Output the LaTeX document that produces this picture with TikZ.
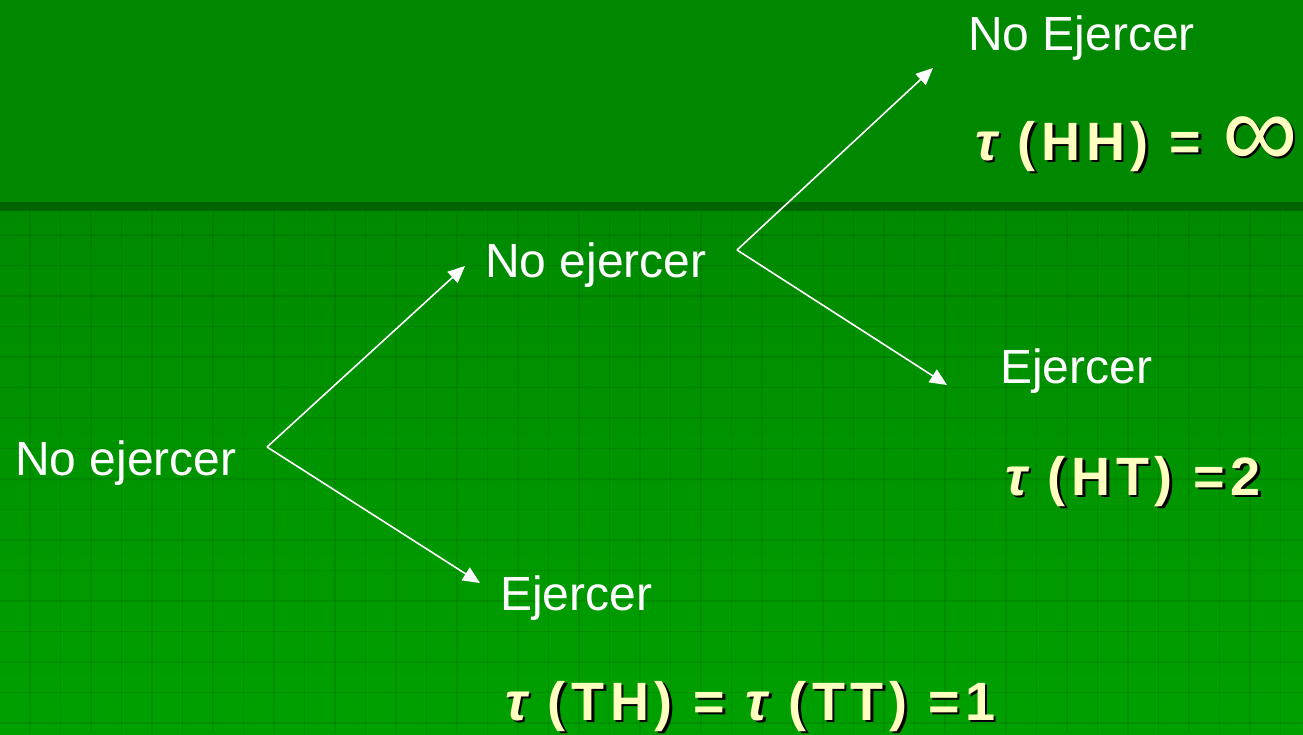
\documentclass[tikz,border=0pt]{standalone}
\usepackage{fontspec}
\setmainfont{Liberation Sans}
\usetikzlibrary{arrows.meta}
\definecolor{topgreen}{RGB}{0,136,0}
\definecolor{bandgreen}{RGB}{0,100,0}
\definecolor{lowtop}{RGB}{0,138,0}
\definecolor{lowbot}{RGB}{0,160,0}
\definecolor{fyellow}{RGB}{255,255,192}
\newcommand\fml[3]{%
  \node[fshadow,xshift=2.5pt,yshift=-2.5pt] at (#2) {#3};
  \node[ftext] (#1) at (#2) {#3};}
\begin{document}
\begin{tikzpicture}[x=1pt,y=-1pt,
  lbl/.style={text=white,font=\fontsize{48}{48}\selectfont,inner sep=0pt,anchor=base west},
  ftext/.style={text=fyellow,font=\fontsize{54}{54}\selectfont\bfseries\addfontfeature{LetterSpace=10.5},inner sep=0pt,anchor=base west},
  fshadow/.style={ftext,text=black},
  inf/.style={text=fyellow,font=\fontsize{106}{106}\selectfont,inner sep=0pt,anchor=center},
  arr/.style={white,line width=1.6pt,-{Triangle[length=17pt,width=15pt]}},
  gridl/.style={draw=black,opacity=0.08,line width=1.2pt}]
\useasboundingbox (0,0) rectangle (1303,734);
% background
\fill[topgreen] (0,0) rectangle (1303,202);
\shade[top color=lowtop,bottom color=lowbot] (0,210) rectangle (1303,734);
\fill[bandgreen] (0,201.5) rectangle (1303,210.5);
\foreach \x in {30,60.5,...,1303} \draw[gridl] (\x,211) -- (\x,734);
\foreach \y in {235,265.5,...,734} \draw[gridl] (0,\y) -- (1303,\y);
% labels
\node[lbl] (noej0) at (15,475) {No ejercer};
\node[lbl] (noej1) at (485,277) {No ejercer};
\node[lbl] (ej1) at (500,610) {Ejercer};
\node[lbl] (noej2) at (968,50) {No Ejercer};
\node[lbl] (ej2) at (1000,383) {Ejercer};
% formulas
\fml{fhh}{975,160}{{\itshape τ} (HH) =}
\node[inf,text=black,xshift=2.5pt,yshift=-2.5pt] at (1260,142) {∞};
\node[inf] (infty) at (1260,142) {∞};
\fml{fht}{1005,495}{{\itshape τ} (HT) =2}
\fml{ftt}{505,720}{{\itshape τ} (TH) = {\itshape τ} (TT) =1}
% connector points
\coordinate (a0) at (267,447);
\coordinate (t0u) at (465,266);
\coordinate (t0d) at (480,583);
\coordinate (a1) at (737,250);
\coordinate (t1u) at (933,68);
\coordinate (t1d) at (947,385);
\draw[arr] (a0) -- (t0u);
\draw[arr] (a0) -- (t0d);
\draw[arr] (a1) -- (t1u);
\draw[arr] (a1) -- (t1d);
\end{tikzpicture}
\end{document}
